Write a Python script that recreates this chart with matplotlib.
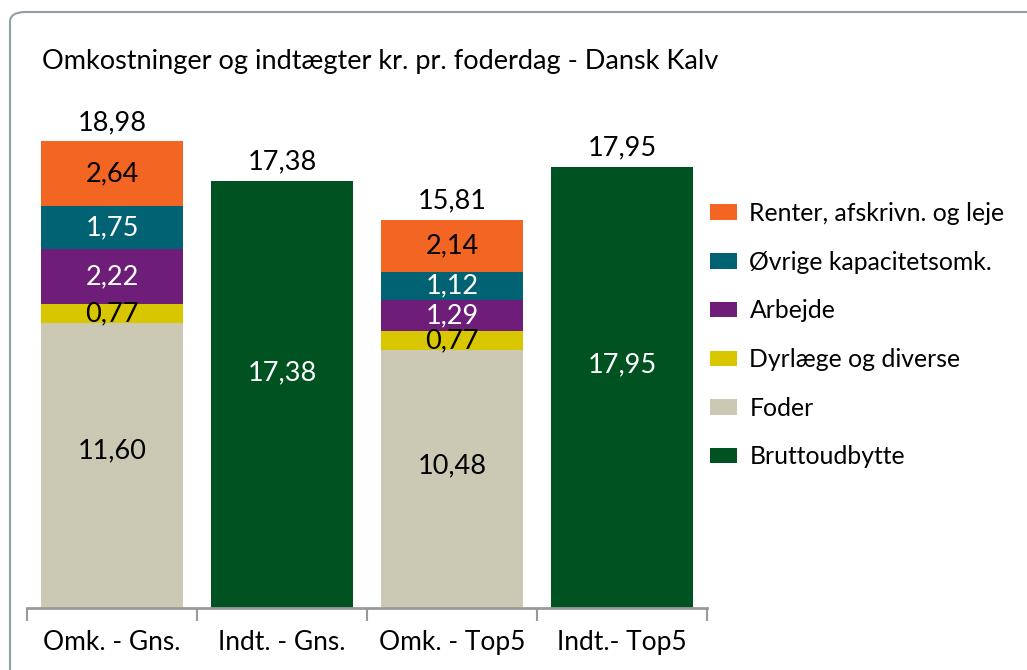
import matplotlib
matplotlib.use("Agg")
import matplotlib.pyplot as plt
from matplotlib.patches import FancyBboxPatch, Patch

plt.rcParams['font.family'] = ['Lato', 'DejaVu Sans']

categories = ["Omk. - Gns.", "Indt. - Gns.", "Omk. - Top5", "Indt.- Top5"]
series_names = ["Foder", "Dyrlæge og diverse", "Arbejde", "Øvrige kapacitetsomk.",
                "Renter, afskrivn. og leje", "Bruttoudbytte"]
foder = [11.60, 0, 10.48, 0]
dyrlaege = [0.77, 0, 0.77, 0]
arbejde = [2.22, 0, 1.29, 0]
oevrige = [1.75, 0, 1.12, 0]
renter = [2.64, 0, 2.14, 0]
brutto = [0, 17.38, 0, 17.95]
totals = [18.98, 17.38, 15.81, 17.95]
title = "Omkostninger og indtægter kr. pr. foderdag - Dansk Kalv"

colors = ["#CBC9B3", "#D7C600", "#6E1E78", "#006272", "#F26522", "#005221"]
label_colors = ["black", "black", "white", "white", "black", "white"]
series = [foder, dyrlaege, arbejde, oevrige, renter, brutto]

fig = plt.figure(figsize=(10.27, 6.7), dpi=100)
ax = fig.add_axes([27/1027, 62/670, 680/1027, 504/670])

x = list(range(len(categories)))
bottoms = [0.0] * len(categories)
handles = {}
for name, vals, col, lc in zip(series_names, series, colors, label_colors):
    ax.bar(x, vals, bottom=bottoms, width=0.83, color=col, edgecolor='none')
    handles[name] = Patch(facecolor=col, edgecolor='none')
    for i, v in enumerate(vals):
        if v > 0:
            ax.text(x[i], bottoms[i] + v * (0.55 if v > 5 else 0.5),
                    f"{v:.2f}".replace('.', ','), ha='center', va='center',
                    fontsize=19.5, color=lc)
    bottoms = [b + v for b, v in zip(bottoms, vals)]

for i, t in enumerate(totals):
    ax.text(x[i], bottoms[i] + 0.75, f"{t:.2f}".replace('.', ','),
            ha='center', va='center', fontsize=19.5, color='black')

ax.set_xlim(-0.5, 3.5)
ax.set_ylim(0, 20.5)
for s in ['top', 'right', 'left']:
    ax.spines[s].set_visible(False)
ax.spines['bottom'].set_color('#999999')
ax.spines['bottom'].set_linewidth(2)
ax.set_yticks([])
ax.set_xticks(x)
ax.set_xticklabels(categories, fontsize=19)
ax.tick_params(axis='x', which='major', length=0, pad=16)
ax.set_xticks([-0.5, 0.5, 1.5, 2.5, 3.5], minor=True)
ax.tick_params(axis='x', which='minor', length=9, width=1.5, color='#999999', direction='out')

fig.text(42/1027, 1 - 62/670, title, fontsize=19.5, ha='left', va='center')

order = ["Renter, afskrivn. og leje", "Øvrige kapacitetsomk.", "Arbejde",
         "Dyrlæge og diverse", "Foder", "Bruttoudbytte"]
fig.legend([handles[n] for n in order], order, loc='upper left',
           bbox_to_anchor=(700/1027, 1 - 192/670), frameon=False, fontsize=17.8,
           handlelength=1.1, handleheight=0.58, handletextpad=0.5,
           labelspacing=1.04, borderaxespad=0)

border = FancyBboxPatch((10/1027, -0.05), 1.1, 1 - 12/670 + 0.05,
                        boxstyle="round,pad=0,rounding_size=0.015",
                        transform=fig.transFigure, facecolor='none',
                        edgecolor='#8FA0A5', linewidth=1.5, clip_on=False)
fig.patches.append(border)

fig.savefig("out.png", dpi=100)
